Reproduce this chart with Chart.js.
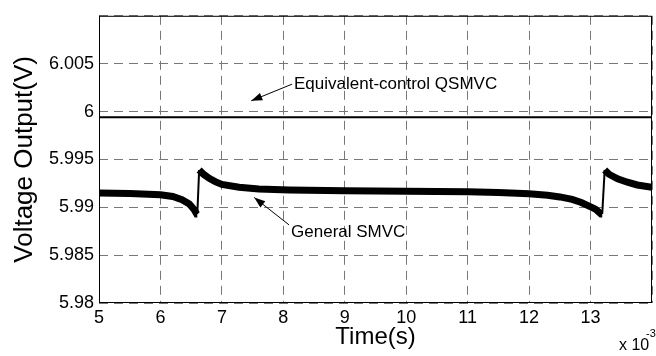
<!DOCTYPE html>
<html>
<head>
<meta charset="utf-8">
<script src="https://cdn.jsdelivr.net/npm/chart.js@4.4.1/dist/chart.umd.min.js"></script>
<style>
  html, body { margin: 0; padding: 0; background: #fff; }
  #wrap { width: 656px; height: 356px; position: relative; }
</style>
</head>
<body>
<div id="wrap"><canvas id="chart" width="656" height="356"></canvas></div>
<script>
// ── Dados ────────────────────────────────────────────────────
// tempo em ms (eixo x ×10^-3 s)
const timeMs = [5.0, 5.5, 6.0, 6.2, 6.35, 6.47, 6.55, 6.59, 6.6, 6.63, 6.7, 6.8, 6.9, 7.0,
  7.28, 7.6, 8.1, 9.0, 10.0, 11.0, 11.5, 12.0, 12.3, 12.5, 12.7, 12.85, 12.95, 13.08,
  13.17, 13.19, 13.23, 13.3, 13.44, 13.6, 13.76, 14.0];
const generalSmvc = [5.9915, 5.99143, 5.9913, 5.99112, 5.9908, 5.99035, 5.98975, 5.9893, 5.9893,
  5.9939, 5.99345, 5.993, 5.99265, 5.99238, 5.99209, 5.9919, 5.9918, 5.99173, 5.99168,
  5.99162, 5.99155, 5.99141, 5.99125, 5.99108, 5.99082, 5.9905, 5.9902, 5.9898, 5.9893,
  5.9893, 5.9939, 5.99345, 5.99298, 5.99262, 5.99233, 5.99208];

const eqTimeMs = [5.0, 14.0];
const eqQsmvc  = [5.9994, 5.9994];

const yTicks = [5.98, 5.985, 5.99, 5.995, 6, 6.005, 6.01];
const yTickLabels = ['5.98', '5.985', '5.99', '5.995', '6', '6.005', ''];
const xTickLabels = ['5', '6', '7', '8', '9', '10', '11', '12', '13', ''];

// anotações (coordenadas em unidades dos dados)
const notes = [
  { text: 'Equivalent-control QSMVC', tx: 8.174, ty: 6.00286, from: [8.142, 6.00286], to: [7.478, 6.00112] },
  { text: 'General SMVC',             tx: 8.126, ty: 5.98735, from: [8.093, 5.98816], to: [7.526, 5.99102] }
];

const FONT = '"Liberation Sans", Arial, sans-serif';

// ── Plugin: moldura, anotações e multiplicador ───────────────
const extras = {
  id: 'extras',
  afterDraw(chart) {
    const { ctx, chartArea: a, scales: { x, y } } = chart;
    ctx.save();
    ctx.strokeStyle = '#000';
    ctx.lineWidth = 1;
    ctx.strokeRect(a.left + 0.5, a.top + 0.5, a.right - a.left - 1, a.bottom - a.top - 1);

    ctx.fillStyle = '#000';
    ctx.font = '17px ' + FONT;
    ctx.textBaseline = 'middle';
    notes.forEach(n => {
      const x0 = x.getPixelForValue(n.from[0]), y0 = y.getPixelForValue(n.from[1]);
      const x1 = x.getPixelForValue(n.to[0]),   y1 = y.getPixelForValue(n.to[1]);
      ctx.beginPath();
      ctx.moveTo(x0, y0);
      ctx.lineTo(x1, y1);
      ctx.stroke();
      const ang = Math.atan2(y1 - y0, x1 - x0);
      const L = 11, W = 4;
      ctx.beginPath();
      ctx.moveTo(x1, y1);
      ctx.lineTo(x1 - L * Math.cos(ang) + W * Math.sin(ang), y1 - L * Math.sin(ang) - W * Math.cos(ang));
      ctx.lineTo(x1 - L * Math.cos(ang) - W * Math.sin(ang), y1 - L * Math.sin(ang) + W * Math.cos(ang));
      ctx.closePath();
      ctx.fill();
      ctx.fillText(n.text, x.getPixelForValue(n.tx), y.getPixelForValue(n.ty));
    });

    ctx.textBaseline = 'alphabetic';
    ctx.font = '16px ' + FONT;
    ctx.fillText('x 10', 619, 350);
    ctx.font = '11px ' + FONT;
    ctx.fillText('-3', 646, 337);
    ctx.restore();
  }
};

// ── Gráfico ──────────────────────────────────────────────────
new Chart(document.getElementById('chart'), {
  type: 'line',
  data: {
    datasets: [
      {
        label: 'Equivalent-control QSMVC',
        data: eqTimeMs.map((t, i) => ({ x: t, y: eqQsmvc[i] })),
        borderColor: '#000',
        borderWidth: 2,
        pointRadius: 0
      },
      {
        label: 'General SMVC',
        data: timeMs.map((t, i) => ({ x: t, y: generalSmvc[i] })),
        borderColor: '#000',
        borderWidth: 7,
        pointRadius: 0,
        segment: {
          borderWidth: c => (c.p1.parsed.y - c.p0.parsed.y > 0.002 ? 2 : 7)
        }
      }
    ]
  },
  options: {
    responsive: false,
    animation: false,
    layout: { padding: { top: 9, right: 2, left: 0, bottom: 0 } },
    plugins: { legend: { display: false }, tooltip: { enabled: false } },
    scales: {
      x: {
        type: 'linear',
        min: 5, max: 14,
        afterFit: s => { s.height = 53; },
        afterBuildTicks: s => { s.ticks = xTickLabels.map((_, i) => ({ value: 5 + i })); },
        ticks: {
          color: '#000',
          font: { family: FONT, size: 18 },
          padding: 4,
          maxRotation: 0,
          autoSkip: false,
          callback: (v, i) => xTickLabels[i]
        },
        grid: { color: '#777', lineWidth: 1, drawTicks: false },
        border: { display: false, dash: [9, 6] },
        title: {
          display: true, text: 'Time(s)', color: '#000',
          font: { family: FONT, size: 24 },
          padding: { top: 0, bottom: 4 }
        }
      },
      y: {
        type: 'linear',
        min: 5.98, max: 6.01,
        afterFit: s => { s.width = 99; },
        afterBuildTicks: s => { s.ticks = yTicks.map(v => ({ value: v })); },
        ticks: {
          color: '#000',
          font: { family: FONT, size: 18 },
          padding: 5,
          autoSkip: false,
          callback: (v, i) => yTickLabels[i]
        },
        grid: { color: '#777', lineWidth: 1, drawTicks: false },
        border: { display: false, dash: [9, 6] },
        title: {
          display: true, text: 'Voltage Output(V)', color: '#000',
          font: { family: FONT, size: 26 },
          padding: { top: 9, bottom: 0 }
        }
      }
    }
  },
  plugins: [extras]
});
</script>
</body>
</html>
